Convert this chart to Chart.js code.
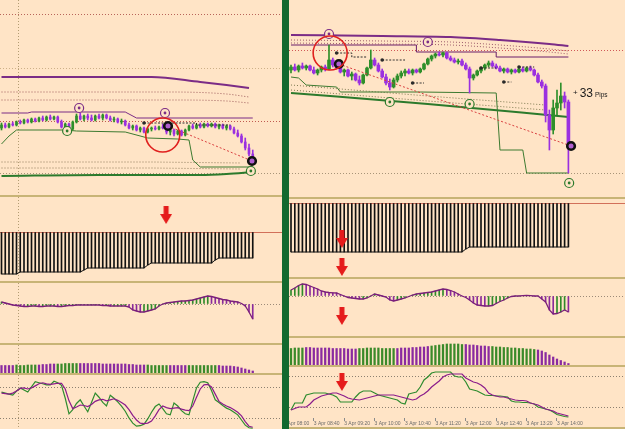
<!DOCTYPE html>
<html>
<head>
<meta charset="utf-8">
<script src="https://cdn.jsdelivr.net/npm/chart.js@4.4.0/dist/chart.umd.min.js"></script>
<style>
body { margin: 0; background: #FFE4C6; }
#wrap { position: relative; width: 625px; height: 429px; overflow: hidden; background: #FFE4C6; }
canvas { position: absolute; }
.sep { position: absolute; height: 2px; background: #C8B476; }
#divider { position: absolute; left: 282px; top: 0; width: 7px; height: 429px; background: #12692F; z-index: 5; }
</style>
</head>
<body>
<div id="wrap">
  <canvas id="lMain" width="282" height="195" style="left:0;top:0"></canvas>
  <canvas id="lSub1" width="282" height="84" style="left:0;top:197px"></canvas>
  <canvas id="lSub2" width="282" height="60" style="left:0;top:283px"></canvas>
  <canvas id="lSub3" width="282" height="28" style="left:0;top:345px"></canvas>
  <canvas id="lSub4" width="282" height="54" style="left:0;top:375px"></canvas>
  <canvas id="rMain" width="342" height="197" style="left:283px;top:0"></canvas>
  <canvas id="rSub1" width="342" height="78" style="left:283px;top:199px"></canvas>
  <canvas id="rSub2" width="342" height="57" style="left:283px;top:279px"></canvas>
  <canvas id="rSub3" width="342" height="27" style="left:283px;top:338px"></canvas>
  <canvas id="rSub4" width="342" height="62" style="left:283px;top:367px"></canvas>
  <div class="sep" style="left:0;width:282px;top:195px"></div>
  <div class="sep" style="left:0;width:282px;top:281px"></div>
  <div class="sep" style="left:0;width:282px;top:343px"></div>
  <div class="sep" style="left:0;width:282px;top:373px"></div>
  <div class="sep" style="left:289px;width:336px;top:197px"></div>
  <div class="sep" style="left:289px;width:336px;top:277px"></div>
  <div class="sep" style="left:289px;width:336px;top:336px"></div>
  <div class="sep" style="left:289px;width:336px;top:365px"></div>
  <div class="sep" style="left:289px;width:336px;top:427px"></div>
  <div id="divider"></div>
</div>
<script>
// ---- left chart (M5), prices in points above the window floor ----
const lOpen  = [72,75,73,76,75,78,77,80,78,81,79,82,80,83,81,83,78,73,76,71,78,84,81,84,82,80,84,82,85,82,80,81,78,79,75,72,74,70,72,68,71,72,71,73,72,68,70,66,69,65,70,74,72,75,73,76,74,76,73,75,72,74,71,67,64,58,52,46];
const lHigh  = [77,77,77,78,79,80,81,81,82,82,83,84,84,85,84,84,80,77,77,79,86,87,85,86,85,85,86,86,86,84,83,82,81,80,77,75,75,73,73,72,73,74,74,76,75,72,71,70,70,71,75,76,76,77,77,77,77,77,76,76,75,75,73,70,66,62,56,50];
const lLow   = [70,72,72,74,74,76,76,77,77,78,78,79,79,80,80,77,72,69,70,70,77,80,79,80,79,79,81,80,81,79,78,77,76,74,71,70,69,68,67,67,69,70,70,71,66,65,64,65,64,64,69,71,71,72,72,73,73,72,71,71,70,70,66,63,57,50,44,38];
const lClose = [75,73,76,75,78,77,80,78,81,79,82,80,83,81,83,78,73,76,71,78,84,81,84,82,80,84,82,85,82,80,81,78,79,75,72,74,70,72,68,71,72,71,73,72,68,70,66,69,65,70,74,72,75,73,76,74,76,73,75,72,74,71,67,64,58,52,46,40];

const lMaBars = [0, 40, 53, 60, 66];
const lMa = [123, 123, 118, 115, 112];
const lEnvBars = [0, 45, 60, 66];
const lEnvUp1 = [108, 108, 106, 103];
const lEnvUp2 = [100, 100, 99, 97];
const lResistBars = [0, 7, 8, 33, 36, 67];
const lResist = [87, 87, 88, 88, 82, 82];
const lSupportBars = [0, 2, 4, 17, 20, 33, 39, 47, 50, 51, 53, 67];
const lSupport = [56, 64, 70, 70, 69, 68, 62, 61, 60, 40, 33, 33];
const lLowMaBars = [0, 26, 53, 60, 67];
const lLowMa = [24, 25, 25, 26, 28];
const lEnvLowBars = [0, 40, 64];
const lEnvLow1 = [38, 38, 37];
const lEnvLow2 = [32, 32, 31];
const lStops = [null,null,null,null,null,null,null,null,null,null,null,null,null,null,null,null,null,null,null,null,
  null,null,null,null,null,null,null,null,null,null,null,null,null,null,null,null,null,null,
  77,77,77,77,77,77,77,77,77,77,77,77,77,77,75,75,75,75,75,75,75,75,75,75,null,null,null,null,null,null];
const lLevels = [185, 132, 79, 27];
const lTimeSeparator = [4.4];

const lPurpleRingBars = [20.7, 43.6], lPurpleRing = [92, 87];
const lGreenRingBars = [17.5, 66.5], lGreenRing = [69, 29];
const lTradeBars = [44.4, 66.8], lTrade = [74, 39];
const lRedCircleBars = [43], lRedCircle = [65];

const lHist = [-42,-42,-42,-42,-42,
  -40,-40,-40,-40,-40,-40,-40,-40,-40,-40,-40,-40,-40,-40,-40,-40,-40,
  -38,
  -36,-36,-36,-36,-36,-36,-36,-36,-36,-36,-36,-36,-36,-36,-36,-36,
  -33,
  -31,-31,-31,-31,-31,-31,-31,-31,-31,-31,-31,-31,-31,-31,-31,-31,-31,
  -28,
  -26,-26,-26,-26,-26,-26,-26,-26,-26,-26];
const lHistArrowBars = [43.9], lHistArrow = [17];

const lOsc = [2,1,0,-1,-1.5,
  -2,-2.5,-2.5,-2,-2,-2.5,-2.5,-2,-2,-2,-2.5,-2.5,-2,
  -1.5,-1.5,-1,-1,-1,-1,-1,-1,-1,
  -1.5,-1.5,-2,-2,-2,-2,-2,
  -3,-6,-7,-8,-8,-7,-6,-5,-2,0,1,1.5,2,2.5,3,3,3.5,4,5,6,7,8,7.5,6.5,5.5,4.5,4,3,2.5,2,0.5,-2,-8,-15];

const lTrend = [7.5,7.5,7.5,7.5,8,7.5,7.5,8,8,8,8,8.5,8.5,
  9,9,9,9,9.5,9.5,9.5,9.5,9.5,9.5,9.5,9.5,9.5,9.5,9,9,9,9,9,9,9,8.5,8.5,
  8,8,8,8,7.5,7.5,7.5,7.5,7.5,7.5,7.5,7.5,7.5,7.5,7.5,7.5,7.5,7.5,7.5,7.5,7.5,7.5,7.5,7,7,7,
  6.5,6,5,4,3,2];
const lTrendDir = [-1,-1,-1,-1, 1,1,1,1,1,1, -1,-1,-1,-1,-1, 1,1,1,1,1,1,
  -1,-1,-1,-1,-1,-1,-1,-1,-1,-1,-1,-1,-1,-1,-1,-1,-1,-1,
  1,1,1,1,1,1, -1,-1,-1,-1,-1, 1,1,1,1,1,1,1,1, -1,-1,-1,-1,-1,-1,-1,-1,-1,-1];

const lStochMain = [72,70,68,66,74,80,76,72,82,92,90,88,86,86,93,90,85,60,30,38,50,57,45,34,52,70,62,52,45,66,60,53,45,35,22,12,6,7,10,20,33,44,49,40,30,28,51,45,36,30,28,55,80,91,92,90,75,57,52,46,41,38,33,28,18,8,3,2];
const lStochSignal = [70,69,68,70,74,79,80,78,80,84,88,90,88,87,88,89,89,78,55,40,43,47,46,44,48,54,57,58,55,57,59,56,52,47,38,27,18,12,11,12,16,26,38,45,42,40,41,42,39,37,36,45,62,78,86,87,82,68,54,49,45,42,38,33,26,15,6,4];
const stochLevels = [80, 20];

// ---- right chart (M5, 3 Apr 08:10 - 14:15) ----
const rOpen  = [130,133,130,134,132,134,130,127,130,133,131,140,135,132,128,130,124,126,120,117,125,132,140,135,129,123,117,113,120,124,127,129,127,130,128,131,136,141,144,146,145,147,142,140,138,139,135,131,122,125,129,132,135,137,134,132,129,131,128,130,128,131,129,132,130,125,118,114,85,70,92,97,104,98];
const rHigh  = [135,136,135,137,135,135,133,131,134,135,155,142,138,134,131,131,128,127,124,126,133,150,142,137,131,126,121,122,126,129,131,131,131,131,132,137,142,145,147,148,148,148,144,142,141,141,137,133,126,130,133,136,139,139,136,134,132,132,131,131,132,133,133,134,131,127,120,116,90,100,110,117,108,100];
const rLow   = [127,129,128,131,130,129,126,125,128,129,130,133,131,127,124,123,120,119,115,116,124,131,134,128,122,115,110,112,118,122,124,126,125,127,127,130,135,139,142,144,143,141,139,137,136,134,130,107,120,124,127,130,133,133,131,128,127,127,126,127,127,128,128,129,124,117,112,78,50,66,85,90,92,27];
const rClose = [133,130,134,132,134,130,127,130,133,131,140,135,132,128,130,124,126,120,117,125,132,140,135,129,123,117,113,120,124,127,129,127,130,128,131,136,141,144,146,145,147,142,140,138,139,135,131,122,125,129,132,135,137,134,132,129,131,128,130,128,131,129,132,130,125,118,114,85,70,92,97,104,98,53];

const rMaBars = [0, 24, 42, 55, 68, 73];
const rMa = [165, 164, 163, 160, 156, 154];
const rEnvUp1 = [160, 159, 158, 155, 151, 149];
const rEnvUp2 = [157, 156, 155, 152, 148, 146];
const rResistBars = [0, 33, 54, 73];
const rResist = [155, 148, 143, 143];
const rLowMaBars = [0, 36, 73];
const rLowMa = [107, 96, 83];
const rEnvLowBars = [0, 36, 67];
const rEnvLow1 = [115, 104, 95];
const rEnvLow2 = [110, 99, 90];
const rSupportBars = [0, 2, 4, 12, 13, 34, 54, 55, 61, 62, 73];
const rSupport = [123, 122, 115, 113, 108, 108, 107, 50, 50, 27, 27];
const rStops = [null,null,null,null,null,null,null,null,null,null,null,null,
  147,147,147,147,143,143,143,143,143,null,null,null,
  140,140,140,140,140,140,140,null,117,117,117,117,
  null,null,null,null,null,null,null,null,null,null,null,null,null,null,
  132,132,132,132,132,null,118,118,118,null,133,133,133,133,133,
  null,null,null,null,null,null,null,null,null];
const rLevels = [150, 27];

const rPurpleRingBars = [10, 36], rPurpleRing = [166, 158];
const rGreenRingBars = [26, 47, 73.2], rGreenRing = [98, 96, 17];
const rTradeBars = [12.6, 73.7], rTrade = [136, 54];
const rRedCircleBars = [10.3], rRedCircle = [147];
const pipsLabelBar = 74.2, pipsLabelValue = 103;
const pipsLabelParts = ['+', '33', 'Pips'];

const rHist = [-49,-49,-49,-49,-49,-49,-49,-49,-49,-49,
  -49,-49,-49,-49,-49,-49,-49,-49,-49,-49,
  -49,-49,-49,-49,-49,-49,-49,-49,-49,-49,
  -49,-49,-49,-49,-49,-49,-49,-49,-49,-49,
  -49,-49,-49,-49,-49,-49,
  -46,
  -44,-44,-44,-44,-44,-44,-44,-44,-44,-44,
  -44,-44,-44,-44,-44,-44,-44,-44,-44,-44,
  -44,-44,-44,-44,-44,-44,-44];
const rHistArrowBars = [13.4, 13.4], rHistArrow = [-36, -64];

const rOsc = [6,8,10.5,12,11.5,10,8.5,7,5,4,
  3.5,3.2,3,1.5,0,-1.5,-2,-2.5,-3,-3,
  -2,0,2,1,0,-1,-4,-5,-4,-3,
  -2,-0.5,1,2,2.5,3,3.5,4,5,6,
  7,6.5,5.5,4,2,0,-1.5,-4,-7,-9,
  -9.5,-10,-10,-9.5,-7.5,-5.5,-4,-2,-0.5,0,
  0,0.3,0.5,0.3,0,0,-3,-6,-14,-18,
  -17.5,-16,-14,-16];
const rOscArrowBars = [13.4], rOscArrow = [-20];

const rTrend = [16.5,17,17,17,17.5,17.5,17,17,17,17,
  17,16.5,16.5,16.5,16.5,16,16,16,16.5,16.5,
  17,17,17,17,16.5,16.5,16.5,16.5,16.5,17,
  17,17,17.5,17.5,18,18,18.5,19,19.5,
  20,20.5,21,21,21,21,20.5,20.5,20,20,
  19.5,19,19,18.5,18.5,18,18,17.5,17.5,17,
  17,16.5,16.5,16,16,15.5,15,
  14,12.5,10,8,6,4.5,3,1.5];
const rTrendDir = [1,1,1,1, -1,-1,-1,-1,-1,-1,-1,-1,-1,-1,-1,-1,-1,-1,
  1,1,1,1,1,1,1,1,1,1, -1,-1,-1,-1,-1,-1,-1,-1,-1,
  1,1,1,1,1,1,1,1,1, -1,-1,-1,-1,-1,-1,-1,
  1,1,1,1,1,1,1,1,1,1,1,1, -1,-1,-1,-1,-1,-1,-1,-1,-1];

const rStochMain = [14,28,28,28,44,46,48,48,48,48,46,44,40,30,30,30,30,40,48,52,52,52,48,44,42,40,38,36,34,28,26,46,48,50,60,74,80,88,90,90,90,90,90,82,80,80,70,56,54,52,48,44,43,43,42,42,41,40,32,30,30,29,29,28,26,20,18,16,14,10,5,3,1,0];
const rStochSignal = [14,17,20,20,20,26,34,38,42,44,46,48,48,45,42,38,36,35,34,36,38,40,42,44,44,44,44,44,42,40,38,36,34,36,42,46,52,60,66,72,80,84,86,86,86,86,78,74,70,68,64,58,48,44,42,40,40,38,36,34,33,33,32,28,26,24,20,16,14,12,8,6,4,2];
const rStochArrowBars = [13.4], rStochArrow = [70];

const timeTickBars = [-2, 6, 14, 22, 30, 38, 46, 54, 62, 70];
const timeTickLabels = ['3 Apr 08:00', '3 Apr 08:40', '3 Apr 09:20', '3 Apr 10:00', '3 Apr 10:40',
  '3 Apr 11:20', '3 Apr 12:00', '3 Apr 12:40', '3 Apr 13:20', '3 Apr 14:00'];

// ---- drawing ----
const BG = '#FFE4C6', BULL = '#2E8F2A', BEAR = '#9B30E0', PURPLE = '#7B2C86', GREEN = '#2C7A2C';
const leftX = { min: -0.4, max: 74.8 };
const rightX = { min: -2.105, max: 87.895 };

const arrowImg = document.createElement('canvas');
arrowImg.width = 12; arrowImg.height = 18;
const actx = arrowImg.getContext('2d');
actx.fillStyle = '#E51B1B';
actx.fillRect(3.5, 0, 5, 9);
actx.beginPath(); actx.moveTo(0, 8); actx.lineTo(12, 8); actx.lineTo(6, 18); actx.closePath(); actx.fill();

function pts(values, bars) {
  return values.map((v, i) => ({ x: bars ? bars[i] : i, y: v }));
}

function line(values, bars, color, width, dash, extra) {
  return Object.assign({ type: 'line', data: pts(values, bars), borderColor: color, borderWidth: width,
    borderDash: dash || [], pointRadius: 0, fill: false, order: 4 }, extra || {});
}

function marks(values, bars, color, fill, r, w, order) {
  return { type: 'line', showLine: false, data: pts(values, bars), pointRadius: r, pointBorderWidth: w,
    pointBorderColor: color, pointBackgroundColor: fill, order: order };
}

function ringWithDot(values, bars, color) {
  return [marks(values, bars, color, color, 1.4, 0, -1), marks(values, bars, color, BG, 4.5, 1.2, 0)];
}

function arrows(values, bars) {
  return { type: 'line', showLine: false, data: pts(values, bars), pointStyle: arrowImg, pointRadius: 6, order: -2 };
}

function candles(open, high, low, close, body) {
  const colors = close.map((c, i) => c >= open[i] ? BULL : BEAR);
  return [
    { type: 'bar', data: open.map((o, i) => ({ x: i, y: [Math.min(o, close[i]), Math.max(o, close[i])] })),
      backgroundColor: colors, barThickness: body, grouped: false, order: 2 },
    { type: 'bar', data: low.map((l, i) => ({ x: i, y: [l, high[i]] })),
      backgroundColor: colors, barThickness: 1, grouped: false, order: 3 }
  ];
}

function stops(values, color) {
  return line(values, null, color, 1, [2, 1.5], { stepped: true, order: 1,
    pointRadius: c => (values[c.dataIndex] != null && (c.dataIndex === 0 || values[c.dataIndex - 1] == null)) ? 1.8 : 0,
    pointBackgroundColor: color, pointBorderWidth: 0 });
}

function panel(id, xr, yMin, yMax, datasets, opt) {
  opt = opt || {};
  const xScale = { type: 'linear', min: xr.min, max: xr.max, offset: false, ticks: { display: false },
    grid: { display: false, offset: false, drawTicks: false }, border: { display: false } };
  if (opt.vLines) {
    xScale.grid = { display: true, offset: false, drawTicks: false, color: '#B29C72', lineWidth: 1 };
    xScale.border = { display: false, dash: [1, 2] };
    xScale.afterBuildTicks = s => { s.ticks = opt.vLines.map(v => ({ value: v })); };
  }
  if (opt.time) {
    xScale.ticks = { display: true, align: 'start', maxRotation: 0, minRotation: 0, autoSkip: false, padding: 0,
      color: '#6a6a6a', font: { size: 5, family: 'Liberation Sans' }, callback: (v, i) => timeTickLabels[i] };
    xScale.grid = { display: true, offset: false, drawOnChartArea: false, drawTicks: true, tickLength: 3, color: '#8a8a8a' };
    xScale.afterBuildTicks = s => { s.ticks = timeTickBars.map(v => ({ value: v })); };
    xScale.afterFit = s => { s.height = 11; s.paddingLeft = 0; s.paddingRight = 0; };
  }
  const yScale = { type: 'linear', min: yMin, max: yMax, ticks: { display: false },
    grid: { display: false, drawTicks: false }, border: { display: false } };
  if (opt.levels) {
    yScale.grid = { display: true, drawTicks: false, lineWidth: 1, color: c => opt.levelColors[c.index % opt.levelColors.length] };
    yScale.border = { display: false, dash: opt.dash };
    yScale.afterBuildTicks = s => { s.ticks = opt.levels.map(v => ({ value: v })); };
  }
  return new Chart(document.getElementById(id), {
    type: 'bar',
    data: { datasets: datasets },
    options: {
      responsive: false, animation: false, devicePixelRatio: 1, events: [],
      layout: { padding: 0, autoPadding: false },
      plugins: { legend: { display: false }, tooltip: { enabled: false } },
      scales: { x: xScale, y: yScale }
    },
    plugins: opt.plugins || []
  });
}

const slopeColors = arr => arr.map((v, i) => (i === 0 || v >= arr[i - 1]) ? '#2F8A2A' : '#8A2A9A');
const dirColors = arr => arr.map(d => d > 0 ? '#3A8A2A' : '#8A2AA0');

const pipsText = {
  id: 'pipsText',
  afterDatasetsDraw(chart) {
    const ctx = chart.ctx, sizes = [8, 12, 6.5];
    let x = chart.scales.x.getPixelForValue(pipsLabelBar);
    const y = chart.scales.y.getPixelForValue(pipsLabelValue);
    ctx.save();
    ctx.fillStyle = '#1a1a1a';
    ctx.textBaseline = 'alphabetic';
    pipsLabelParts.forEach((t, i) => {
      ctx.font = sizes[i] + 'px "Liberation Sans", Arial';
      ctx.fillText(t, x, i === 0 ? y - 2 : y);
      x += ctx.measureText(t).width + 2;
    });
    ctx.restore();
  }
};

// left main window
panel('lMain', leftX, 5, 200, [].concat(
  marks(lRedCircle, lRedCircleBars, '#E0201E', 'rgba(0,0,0,0)', 17, 1.6, -3),
  ringWithDot(lPurpleRing, lPurpleRingBars, PURPLE),
  ringWithDot(lGreenRing, lGreenRingBars, GREEN),
  marks(lTrade, lTradeBars, '#111', '#B060D0', 3.8, 2.6, -1),
  line(lTrade, lTradeBars, '#D94040', 1, [2, 2], { order: 1 }),
  stops(lStops, '#2a2a2a'),
  candles(lOpen, lHigh, lLow, lClose, 2),
  line(lMa, lMaBars, PURPLE, 2, [], { cubicInterpolationMode: 'monotone' }),
  line(lEnvUp1, lEnvBars, '#9C5A5A', 1, [1, 2], { cubicInterpolationMode: 'monotone' }),
  line(lEnvUp2, lEnvBars, '#9C5A5A', 1, [1, 2], { cubicInterpolationMode: 'monotone' }),
  line(lResist, lResistBars, PURPLE, 1),
  line(lSupport, lSupportBars, '#3C7A30', 1),
  line(lLowMa, lLowMaBars, GREEN, 2, [], { cubicInterpolationMode: 'monotone' }),
  line(lEnvLow1, lEnvLowBars, '#8C7A5A', 1, [1, 2]),
  line(lEnvLow2, lEnvLowBars, '#8C7A5A', 1, [1, 2])
), { vLines: lTimeSeparator, levels: lLevels, levelColors: ['#B8645A', '#CDB088', '#C05A50', '#A89478'], dash: [1, 2] });

panel('lSub1', leftX, -49, 35, [
  arrows(lHistArrow, lHistArrowBars),
  line(lHist, null, '#111', 1),
  { type: 'bar', data: pts(lHist), backgroundColor: '#111', barThickness: 1, grouped: false, order: 5 }
], { vLines: lTimeSeparator, levels: [0], levelColors: ['#D2705A'], dash: [] });

panel('lSub2', leftX, -39, 21, [
  line(lOsc, null, '#7A1F7A', 1.3, [], { order: 1 }),
  { type: 'bar', data: pts(lOsc), backgroundColor: slopeColors(lOsc), barThickness: 1, grouped: false, order: 5 }
], { vLines: lTimeSeparator, levels: [0], levelColors: ['#9C8A78'], dash: [1, 2] });

panel('lSub3', leftX, 0, 28, [
  { type: 'bar', data: pts(lTrend), backgroundColor: dirColors(lTrendDir), barThickness: 1.6, grouped: false, order: 5 }
], { vLines: lTimeSeparator });

panel('lSub4', leftX, 0.6, 105, [
  line(lStochSignal, null, '#8B1C8B', 1.2),
  line(lStochMain, null, '#2E8B2E', 1.2)
], { vLines: lTimeSeparator, levels: stochLevels, levelColors: ['#8C8070'], dash: [1, 2] });

// right main window
panel('rMain', rightX, 3, 200, [].concat(
  marks(rRedCircle, rRedCircleBars, '#E0201E', 'rgba(0,0,0,0)', 17, 1.6, -3),
  ringWithDot(rPurpleRing, rPurpleRingBars, PURPLE),
  ringWithDot(rGreenRing, rGreenRingBars, GREEN),
  marks(rTrade, rTradeBars, '#111', '#B060D0', 3.8, 2.6, -1),
  line(rTrade, rTradeBars, '#D94040', 1, [2, 2], { order: 1 }),
  stops(rStops, '#2a2a2a'),
  candles(rOpen, rHigh, rLow, rClose, 3),
  line(rMa, rMaBars, PURPLE, 2, [], { cubicInterpolationMode: 'monotone' }),
  line(rEnvUp1, rMaBars, '#9C5A6A', 1, [1, 2], { cubicInterpolationMode: 'monotone' }),
  line(rEnvUp2, rMaBars, '#9C5A6A', 1, [1, 2], { cubicInterpolationMode: 'monotone' }),
  line(rResist, rResistBars, '#6A1F6A', 1, [], { stepped: true }),
  line(rSupport, rSupportBars, '#3C7A30', 1),
  line(rLowMa, rLowMaBars, GREEN, 2, [], { cubicInterpolationMode: 'monotone' }),
  line(rEnvLow1, rEnvLowBars, '#7E7A50', 1, [1, 2]),
  line(rEnvLow2, rEnvLowBars, '#7E7A50', 1, [1, 2])
), { levels: rLevels, levelColors: ['#D05858', '#A89478'], dash: [1, 2], plugins: [pipsText] });

panel('rSub1', rightX, -74, 4, [
  arrows(rHistArrow, rHistArrowBars),
  line(rHist, null, '#111', 1),
  { type: 'bar', data: pts(rHist), backgroundColor: '#111', barThickness: 1, grouped: false, order: 5 }
], { levels: [0], levelColors: ['#D2705A'], dash: [] });

panel('rSub2', rightX, -40, 17, [
  arrows(rOscArrow, rOscArrowBars),
  line(rOsc, null, '#7A1F7A', 1.3, [], { order: 1 }),
  { type: 'bar', data: pts(rOsc), backgroundColor: slopeColors(rOsc), barThickness: 1, grouped: false, order: 5 }
], { levels: [0], levelColors: ['#9C8A78'], dash: [1, 2] });

panel('rSub3', rightX, 0, 27, [
  { type: 'bar', data: pts(rTrend), backgroundColor: dirColors(rTrendDir), barThickness: 1.6, grouped: false, order: 5 }
]);

panel('rSub4', rightX, -2, 100, [
  arrows(rStochArrow, rStochArrowBars),
  line(rStochSignal, null, '#8B1C8B', 1.2),
  line(rStochMain, null, '#2E8B2E', 1.2)
], { time: true, levels: stochLevels, levelColors: ['#8C8070'], dash: [1, 2] });
</script>
</body>
</html>
